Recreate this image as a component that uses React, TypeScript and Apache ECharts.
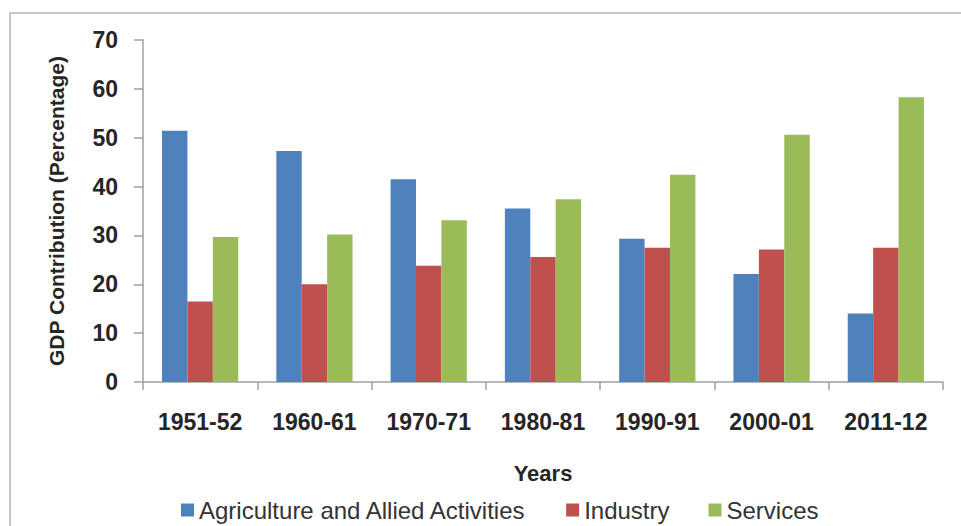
import React, { useEffect, useRef } from "react";
import * as echarts from "echarts";

const categories = ["1951-52", "1960-61", "1970-71", "1980-81", "1990-91", "2000-01", "2011-12"];
const agriculture = [51.4, 47.3, 41.5, 35.5, 29.3, 22.1, 14.0];
const industry = [16.5, 20.0, 23.8, 25.6, 27.5, 27.1, 27.5];
const services = [29.7, 30.2, 33.1, 37.4, 42.4, 50.6, 58.3];
const seriesNames = ["Agriculture and Allied Activities", "Industry", "Services"];
const colors = ["#4F81BD", "#C0504D", "#9BBB59"];

const FONT = "'Liberation Sans', Arial, sans-serif";

export default function App() {
  const ref = useRef<HTMLDivElement>(null);
  useEffect(() => {
    if (!ref.current) return;
    const chart = echarts.init(ref.current, null, { renderer: "svg" });
    const values = [agriculture, industry, services];
    chart.setOption({
      animation: false,
      backgroundColor: "#ffffff",
      textStyle: { fontFamily: FONT },
      graphic: [
        {
          type: "rect",
          shape: { x: 10, y: 13, width: 1000, height: 700 },
          style: { fill: "none", stroke: "#b4b4b4", lineWidth: 1.5 },
          silent: true,
        },
      ],
      grid: { left: 143, right: 18, top: 40, bottom: 144, containLabel: false },
      legend: {
        left: 181,
        top: 498,
        padding: 0,
        itemWidth: 13,
        itemHeight: 13,
        itemGap: 39,
        icon: "rect",
        textStyle: { fontSize: 24, color: "#333333", fontFamily: FONT, lineHeight: 24 },
        data: seriesNames,
      },
      xAxis: {
        type: "category",
        data: categories,
        name: "Years",
        nameLocation: "middle",
        nameGap: 80,
        nameTextStyle: { fontSize: 22, fontWeight: "bold", color: "#262626", fontFamily: FONT },
        axisLine: { lineStyle: { color: "#a0a0a0", width: 1.5 } },
        axisTick: { show: true, length: 8, inside: false, lineStyle: { color: "#a0a0a0", width: 1.5 } },
        axisLabel: { interval: 0, fontSize: 23, fontWeight: "bold", color: "#262626", margin: 28, fontFamily: FONT },
      },
      yAxis: {
        type: "value",
        min: 0,
        max: 70,
        interval: 10,
        name: "GDP Contribution (Percentage)",
        nameLocation: "middle",
        nameGap: 76,
        nameTextStyle: { fontSize: 21, fontWeight: "bold", color: "#262626", fontFamily: FONT },
        axisLine: { show: true, lineStyle: { color: "#a0a0a0", width: 1.5 } },
        axisTick: { show: true, length: 9, inside: false, lineStyle: { color: "#a0a0a0", width: 1.5 } },
        axisLabel: { fontSize: 23, fontWeight: "bold", color: "#262626", margin: 25, fontFamily: FONT },
        splitLine: { show: false },
      },
      series: seriesNames.map((name, i) => ({
        name,
        type: "bar",
        data: values[i],
        barGap: "0%",
        barCategoryGap: "33.3%",
        itemStyle: { color: colors[i] },
      })),
    });
    return () => chart.dispose();
  }, []);
  return (
    <div
      ref={ref}
      style={{ position: "fixed", left: 0, top: 0, width: 961, height: 526, background: "#fff" }}
    />
  );
}
